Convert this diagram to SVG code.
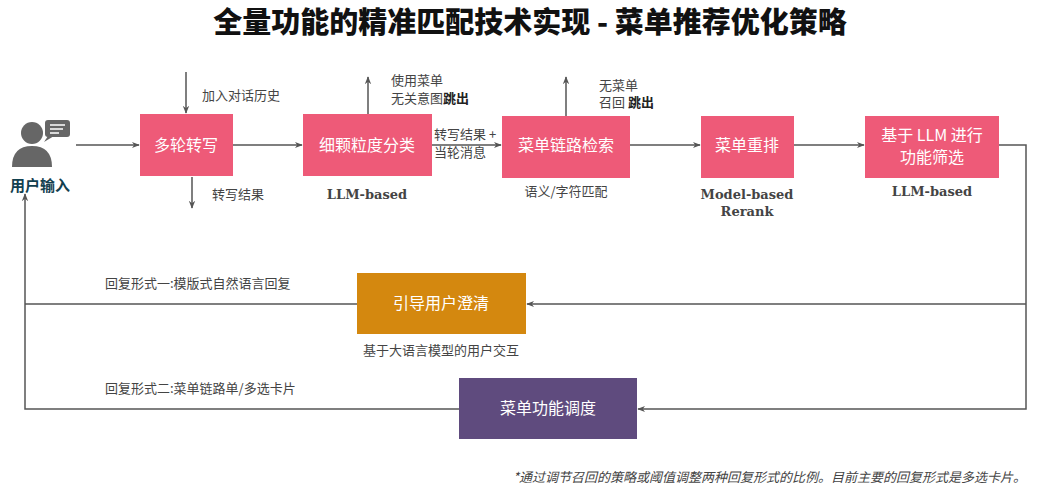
<svg xmlns="http://www.w3.org/2000/svg" width="1043" height="489" viewBox="0 0 1043 489">
<defs>
<marker id="ah" viewBox="0 0 10 10" refX="9" refY="5" markerWidth="8" markerHeight="8" orient="auto-start-reverse" markerUnits="userSpaceOnUse"><path d="M0,1 L10,5 L0,9 L3,5 Z" fill="#555"/></marker>
<style>
.box{fill:#EE5A78}
.bt{font-family:"Noto Sans CJK SC",sans-serif;font-size:16px;fill:#fff;text-anchor:middle}
.lb{font-family:"Noto Sans CJK SC",sans-serif;font-size:13px;fill:#444}
.en{font-family:"DejaVu Serif",serif;font-size:13px;font-weight:bold;fill:#444;text-anchor:middle}
.ln{stroke:#555;stroke-width:1.5;fill:none}
</style>
</defs>
<rect width="1043" height="489" fill="#fff"/>
<text x="530" y="33" text-anchor="middle" font-family="Noto Sans CJK SC,sans-serif" font-weight="900" font-size="29" fill="#111">全量功能的精准匹配技术实现 - 菜单推荐优化策略</text>
<g id="user">
<circle cx="32" cy="133" r="11" fill="#666"/>
<path d="M12,167 Q12,146 32,146 Q52,146 52,167 Z" fill="#666"/>
<rect x="45" y="120" width="25" height="17" rx="3" fill="#666"/><path d="M48,136 L44,142 L54,136 Z" fill="#666"/>
<path d="M50,125 h15 M50,129 h13 M50,133 h9" stroke="#fff" stroke-width="1.5"/>
<text x="40" y="191" text-anchor="middle" font-family="Noto Sans CJK SC,sans-serif" font-weight="bold" font-size="15" fill="#12404F">用户输入</text>
</g>
<g id="connectors">
<path class="ln" d="M76,145 H139" marker-end="url(#ah)"/>
<path class="ln" d="M186,72 V113" marker-end="url(#ah)"/>
<path class="ln" d="M192,177 V208" marker-end="url(#ah)"/>
<path class="ln" d="M233,145 H302" marker-end="url(#ah)"/>
<path class="ln" d="M368,114 V77" marker-end="url(#ah)"/>
<path class="ln" d="M432,145 H501" marker-end="url(#ah)"/>
<path class="ln" d="M566,116 V77" marker-end="url(#ah)"/>
<path class="ln" d="M630,145 H700" marker-end="url(#ah)"/>
<path class="ln" d="M794,145 H864" marker-end="url(#ah)"/>
<path class="ln" d="M999,145 H1026 V409 H638" marker-end="url(#ah)"/>
<path class="ln" d="M1026,304 H527" marker-end="url(#ah)"/>
<path class="ln" d="M357,304 H25"/>
<path class="ln" d="M459,409 H25 V194" marker-end="url(#ah)"/>
</g>
<text class="lb" x="202" y="100">加入对话历史</text>
<text class="lb" x="212" y="199">转写结果</text>
<text class="lb" x="391" y="85">使用菜单</text>
<text class="lb" x="391" y="103">无关意图<tspan font-weight="bold" fill="#222">跳出</tspan></text>
<text class="lb" x="434" y="139">转写结果 +</text>
<text class="lb" x="434" y="157">当轮消息</text>
<text class="lb" x="599" y="90">无菜单</text>
<text class="lb" x="599" y="107">召回 <tspan font-weight="bold" fill="#222">跳出</tspan></text>
<g id="n1"><rect class="box" x="140" y="114" width="93" height="62"/><text class="bt" x="186" y="151">多轮转写</text></g>
<g id="n2"><rect class="box" x="303" y="114" width="129" height="62"/><text class="bt" x="367" y="151">细颗粒度分类</text><text class="en" x="367" y="199">LLM-based</text></g>
<g id="n3"><rect class="box" x="502" y="116" width="128" height="62"/><text class="bt" x="566" y="151">菜单链路检索</text><text class="lb" x="566" y="196" text-anchor="middle">语义/字符匹配</text></g>
<g id="n4"><rect class="box" x="701" y="116" width="93" height="62"/><text class="bt" x="747" y="151">菜单重排</text><text class="en" x="747" y="199">Model-based</text><text class="en" x="747" y="216">Rerank</text></g>
<g id="n5"><rect class="box" x="865" y="116" width="134" height="62"/><text class="bt" x="932" y="141">基于 LLM 进行</text><text class="bt" x="932" y="163">功能筛选</text><text class="en" x="932" y="196">LLM-based</text></g>
<g id="n6"><rect x="357" y="273" width="169" height="61" fill="#D4880F"/><text class="bt" x="441" y="309">引导用户澄清</text><text class="lb" x="441" y="355" text-anchor="middle">基于大语言模型的用户交互</text></g>
<g id="n7"><rect x="459" y="378" width="178" height="61" fill="#5F4B7E"/><text class="bt" x="548" y="414">菜单功能调度</text></g>
<text class="lb" x="105" y="288">回复形式一:模版式自然语言回复</text>
<text class="lb" x="105" y="393">回复形式二:菜单链路单/多选卡片</text>
<text class="lb" x="1026" y="482" text-anchor="end" font-style="italic" font-size="13.5">*通过调节召回的策略或阈值调整两种回复形式的比例。目前主要的回复形式是多选卡片。</text>
</svg>
